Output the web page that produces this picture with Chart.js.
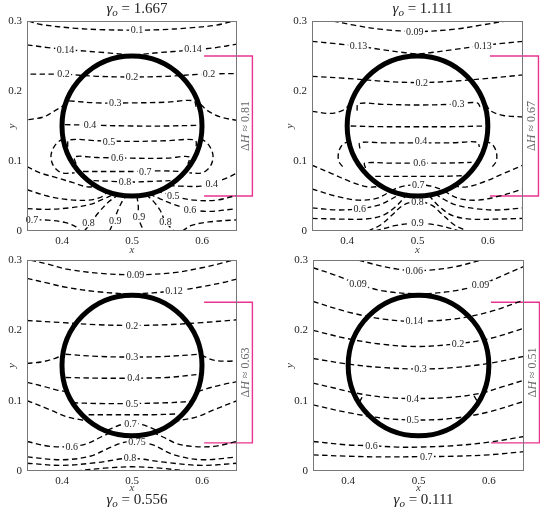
<!DOCTYPE html>
<html><head><meta charset="utf-8">
<script src="https://cdn.jsdelivr.net/npm/chart.js@4.4.0/dist/chart.umd.min.js"></script>
<style>
html,body{margin:0;padding:0;background:#fff;width:540px;height:509px;overflow:hidden;position:relative;}
canvas{position:absolute;}
</style></head><body>
<canvas id="c1" width="270" height="258" style="left:0;top:0"></canvas>
<canvas id="c2" width="265" height="258" style="left:275px;top:0"></canvas>
<canvas id="c3" width="270" height="273" style="left:0;top:236px"></canvas>
<canvas id="c4" width="265" height="273" style="left:275px;top:236px"></canvas>
<script>
// ---------- shared data ----------
const xTicks = [0.4, 0.5, 0.6];
const xTickLabels = ['0.4', '0.5', '0.6'];
const yTicks = [0, 0.1, 0.2, 0.3];
const yTickLabels = ['0', '0.1', '0.2', '0.3'];
const gammaValues = ['1.667', '1.111', '0.556', '0.111'];
const deltaH = ['0.81', '0.67', '0.63', '0.51'];
const bracketTop = [0.25, 0.25, 0.24, 0.24];
const bracketBottom = [0.05, 0.05, 0.04, 0.04];
const bracketX = [0.603, 0.672];
const circleCenter = [0.5, 0.15];
const circleRadius = 0.1;

// ---------- panel 1 (gamma = 1.667) ----------
const p1_a010 = [[0.352,0.3],[0.37,0.295],[0.42,0.2895],[0.46,0.2875],[0.5,0.287],[0.54,0.2875],[0.58,0.29],[0.62,0.294],[0.645,0.3]];
const p1_a014 = [[0.35,0.266],[0.38,0.262],[0.42,0.258],[0.46,0.255],[0.49,0.252],[0.5,0.2505],[0.51,0.252],[0.54,0.255],[0.58,0.258],[0.62,0.262],[0.65,0.267]];
const p1_a020 = [[0.355,0.224],[0.40,0.224],[0.45,0.221],[0.5,0.22],[0.55,0.221],[0.6,0.224],[0.65,0.225]];
const p1_o030L = [[0.352,0.159],[0.374,0.163],[0.39,0.172],[0.402,0.179]];
const p1_o030R = [[0.598,0.181],[0.608,0.172],[0.626,0.163],[0.65,0.158]];
const p1_i030 = [[0.41,0.186],[0.45,0.183],[0.5,0.183],[0.55,0.184],[0.588,0.186],[0.592,0.176]];
const p1_i040 = [[0.404,0.152],[0.45,0.151],[0.5,0.15],[0.55,0.15],[0.594,0.151]];
const p1_i050 = [[0.408,0.12],[0.41,0.13],[0.45,0.129],[0.5,0.128],[0.55,0.129],[0.59,0.13],[0.592,0.12]];
const p1_i060 = [[0.42,0.096],[0.418,0.106],[0.45,0.105],[0.5,0.104],[0.55,0.104],[0.582,0.106],[0.58,0.096]];
const p1_i070 = [[0.43,0.085],[0.47,0.085],[0.5,0.085],[0.54,0.086],[0.57,0.085]];
const p1_i080 = [[0.445,0.072],[0.47,0.071],[0.5,0.07],[0.53,0.071],[0.555,0.072]];
const p1_wL = [[0.402,0.132],[0.392,0.125],[0.385,0.112],[0.385,0.1],[0.39,0.09],[0.4,0.083],[0.418,0.083]];
const p1_wR = [[0.598,0.132],[0.608,0.125],[0.615,0.112],[0.615,0.1],[0.61,0.09],[0.6,0.083],[0.582,0.083]];
const p1_o040L = [[0.35,0.092],[0.369,0.083],[0.393,0.076],[0.416,0.069],[0.436,0.063],[0.448,0.064]];
const p1_o040R = [[0.553,0.065],[0.57,0.064],[0.598,0.064],[0.614,0.068],[0.636,0.076],[0.65,0.083]];
const p1_o050L = [[0.35,0.059],[0.379,0.05],[0.407,0.045],[0.436,0.044],[0.455,0.048],[0.465,0.056]];
const p1_o050R = [[0.535,0.057],[0.55,0.053],[0.566,0.048],[0.59,0.044],[0.62,0.044],[0.65,0.051]];
const p1_o060L = [[0.35,0.032],[0.38,0.031],[0.41,0.033],[0.44,0.038],[0.46,0.046],[0.475,0.053]];
const p1_o060R = [[0.525,0.053],[0.54,0.046],[0.56,0.038],[0.583,0.031],[0.61,0.028],[0.65,0.032]];
const p1_o070L = [[0.35,0.016],[0.38,0.0155],[0.405,0.012],[0.42,0.006],[0.425,0]];
const p1_o070R = [[0.572,0],[0.585,0.008],[0.61,0.013],[0.65,0.016]];
const p1_o080L = [[0.432,0],[0.44,0.01],[0.452,0.026],[0.466,0.041],[0.481,0.052]];
const p1_o080R = [[0.52,0.052],[0.53,0.043],[0.54,0.03],[0.548,0.013],[0.56,0]];
const p1_o090L = [[0.468,0],[0.474,0.014],[0.48,0.03],[0.487,0.044],[0.492,0.0503]];
const p1_o090R = [[0.507,0.0502],[0.509,0.035],[0.509,0.02],[0.514,0.006],[0.518,0]];
const p1LabelText = ['0.1','0.14','0.14','0.2','0.2','0.2','0.3','0.4','0.5','0.6','0.7','0.8','0.4','0.5','0.6','0.7','0.8','0.9','0.9','0.8'];
const p1LabelX = [0.507,0.405,0.587,0.402,0.5,0.61,0.476,0.44,0.467,0.479,0.519,0.49,0.614,0.559,0.583,0.357,0.438,0.476,0.51,0.548];
const p1LabelY = [0.287,0.259,0.26,0.224,0.22,0.225,0.183,0.151,0.128,0.104,0.085,0.07,0.068,0.05,0.03,0.016,0.011,0.014,0.02,0.013];

// ---------- panel 2 (gamma = 1.111) ----------
const p2_a009 = [[0.38,0.3],[0.41,0.294],[0.45,0.288],[0.5,0.285],[0.55,0.288],[0.59,0.294],[0.625,0.3]];
const p2_a013 = [[0.35,0.271],[0.38,0.268],[0.416,0.264],[0.45,0.259],[0.48,0.255],[0.5,0.253],[0.52,0.255],[0.55,0.259],[0.593,0.265],[0.62,0.268],[0.65,0.271]];
const p2_a020 = [[0.35,0.221],[0.4,0.218],[0.45,0.214],[0.5,0.212],[0.55,0.214],[0.6,0.218],[0.65,0.223]];
const p2_o030L = [[0.35,0.171],[0.375,0.168],[0.393,0.172],[0.404,0.181]];
const p2_o030R = [[0.597,0.181],[0.605,0.171],[0.622,0.165],[0.65,0.163]];
const p2_i030 = [[0.414,0.172],[0.416,0.182],[0.45,0.181],[0.5,0.18],[0.55,0.181],[0.585,0.183],[0.59,0.174]];
const p2_i035 = [[0.405,0.15],[0.45,0.149],[0.5,0.149],[0.55,0.149],[0.595,0.15]];
const p2_i040 = [[0.418,0.118],[0.418,0.126],[0.45,0.126],[0.5,0.126],[0.55,0.126],[0.585,0.127],[0.588,0.12]];
const p2_i060 = [[0.426,0.09],[0.425,0.097],[0.46,0.097],[0.5,0.097],[0.54,0.097],[0.577,0.098]];
const p2_i065 = [[0.44,0.078],[0.47,0.078],[0.5,0.078],[0.53,0.078],[0.565,0.079]];
const p2_i070 = [[0.462,0.058],[0.48,0.064],[0.5,0.066],[0.52,0.064],[0.538,0.058]];
const p2_wL = [[0.404,0.128],[0.394,0.124],[0.388,0.113],[0.388,0.1],[0.395,0.09]];
const p2_wR = [[0.596,0.128],[0.606,0.124],[0.612,0.113],[0.612,0.1],[0.605,0.09]];
const p2_o1L = [[0.35,0.094],[0.378,0.082],[0.406,0.07],[0.43,0.063],[0.449,0.064]];
const p2_o1R = [[0.551,0.064],[0.57,0.063],[0.594,0.07],[0.622,0.082],[0.65,0.094]];
const p2_o2L = [[0.35,0.06],[0.387,0.049],[0.416,0.044],[0.443,0.047],[0.462,0.057]];
const p2_o2R = [[0.538,0.057],[0.557,0.047],[0.584,0.044],[0.613,0.049],[0.65,0.06]];
const p2_o3L = [[0.35,0.033],[0.387,0.03],[0.418,0.032],[0.445,0.037],[0.462,0.045],[0.475,0.053]];
const p2_o3R = [[0.525,0.053],[0.538,0.045],[0.555,0.037],[0.582,0.032],[0.613,0.03],[0.65,0.033]];
const p2_o4L = [[0.35,0.018],[0.39,0.017],[0.425,0.017],[0.45,0.022],[0.468,0.034],[0.484,0.051]];
const p2_o4R = [[0.516,0.051],[0.532,0.034],[0.55,0.022],[0.575,0.017],[0.61,0.017],[0.65,0.018]];
const p2_o080 = [[0.43,0],[0.448,0.009],[0.465,0.024],[0.48,0.037],[0.5,0.042],[0.52,0.037],[0.535,0.024],[0.552,0.009],[0.57,0]];
const p2_o090 = [[0.44,0],[0.47,0.008],[0.5,0.011],[0.53,0.008],[0.56,0]];
const p2LabelText = ['0.09','0.13','0.13','0.2','0.3','0.4','0.6','0.7','0.8','0.6','0.9'];
const p2LabelX = [0.496,0.416,0.593,0.506,0.558,0.505,0.503,0.501,0.5,0.418,0.5];
const p2LabelY = [0.285,0.264,0.265,0.212,0.181,0.129,0.097,0.066,0.041,0.032,0.011];

// ---------- panel 3 (gamma = 0.556) ----------
const p3_a009 = [[0.355,0.3],[0.38,0.294],[0.407,0.287],[0.455,0.281],[0.505,0.279],[0.56,0.282],[0.6,0.289],[0.63,0.296],[0.645,0.3]];
const p3_a012 = [[0.35,0.274],[0.38,0.267],[0.407,0.261],[0.45,0.255],[0.5,0.252],[0.56,0.256],[0.6,0.262],[0.63,0.268],[0.65,0.273]];
const p3_a020 = [[0.35,0.214],[0.4,0.211],[0.45,0.208],[0.5,0.207],[0.55,0.208],[0.6,0.211],[0.65,0.215]];
const p3_o030L = [[0.35,0.153],[0.37,0.155],[0.39,0.16],[0.401,0.165]];
const p3_o030R = [[0.599,0.165],[0.615,0.158],[0.635,0.156],[0.65,0.157]];
const p3_i030 = [[0.405,0.166],[0.45,0.163],[0.5,0.162],[0.55,0.163],[0.596,0.166]];
const p3_i040 = [[0.405,0.133],[0.45,0.132],[0.5,0.132],[0.55,0.133],[0.592,0.137]];
const p3_o040L = [[0.35,0.126],[0.375,0.12],[0.393,0.115],[0.406,0.113]];
const p3_o040R = [[0.594,0.113],[0.61,0.118],[0.63,0.123],[0.65,0.127]];
const p3_i050 = [[0.415,0.097],[0.45,0.096],[0.5,0.096],[0.55,0.097],[0.585,0.099]];
const p3_i060 = [[0.438,0.08],[0.47,0.08],[0.5,0.08],[0.53,0.08],[0.562,0.081]];
const p3_i070 = [[0.465,0.058],[0.485,0.066],[0.5,0.068],[0.515,0.066],[0.535,0.058]];
const p3_o050L = [[0.35,0.1],[0.383,0.087],[0.407,0.077],[0.426,0.073],[0.44,0.07]];
const p3_o050R = [[0.56,0.07],[0.574,0.073],[0.593,0.077],[0.617,0.087],[0.65,0.1]];
const p3_o060L = [[0.35,0.042],[0.383,0.035],[0.414,0.035],[0.436,0.039],[0.455,0.048],[0.47,0.055]];
const p3_o060R = [[0.53,0.055],[0.545,0.048],[0.564,0.039],[0.586,0.035],[0.617,0.035],[0.65,0.042]];
const p3_o075 = [[0.35,0.02],[0.4,0.016],[0.44,0.021],[0.47,0.034],[0.49,0.041],[0.507,0.042],[0.53,0.037],[0.56,0.023],[0.6,0.016],[0.65,0.02]];
const p3_o080 = [[0.35,0.011],[0.4,0.008],[0.45,0.012],[0.497,0.018],[0.55,0.012],[0.6,0.008],[0.65,0.011]];
const p3_o085 = [[0.42,0],[0.46,0.004],[0.5,0.006],[0.54,0.004],[0.58,0]];
const p3LabelText = ['0.09','0.12','0.2','0.3','0.4','0.5','0.7','0.6','0.75','0.8'];
const p3LabelX = [0.505,0.56,0.5,0.5,0.502,0.5,0.498,0.414,0.507,0.497];
const p3LabelY = [0.279,0.256,0.207,0.162,0.132,0.096,0.067,0.035,0.041,0.018];

// ---------- panel 4 (gamma = 0.111) ----------
const p4_006 = [[0.415,0.3],[0.44,0.293],[0.47,0.287],[0.494,0.285],[0.52,0.286],[0.55,0.29],[0.59,0.3]];
const p4_009 = [[0.35,0.289],[0.38,0.279],[0.414,0.266],[0.45,0.256],[0.5,0.252],[0.55,0.256],[0.588,0.265],[0.62,0.278],[0.65,0.291]];
const p4_014 = [[0.35,0.241],[0.4,0.226],[0.45,0.216],[0.494,0.213],[0.55,0.216],[0.6,0.226],[0.65,0.243]];
const p4_020 = [[0.35,0.2],[0.4,0.188],[0.45,0.18],[0.5,0.177],[0.556,0.181],[0.6,0.188],[0.65,0.203]];
const p4_030 = [[0.35,0.16],[0.4,0.152],[0.45,0.147],[0.503,0.145],[0.55,0.147],[0.6,0.153],[0.65,0.163]];
const p4_040 = [[0.35,0.125],[0.38,0.118],[0.41,0.111],[0.45,0.105],[0.492,0.103],[0.55,0.105],[0.59,0.111],[0.62,0.12],[0.65,0.129]];
const p4_050 = [[0.35,0.094],[0.4,0.083],[0.45,0.075],[0.5,0.0725],[0.55,0.075],[0.6,0.084],[0.65,0.099]];
const p4_060 = [[0.35,0.042],[0.4,0.037],[0.433,0.036],[0.47,0.034],[0.5,0.034],[0.55,0.036],[0.6,0.041],[0.65,0.049]];
const p4_070 = [[0.35,0.023],[0.4,0.021],[0.45,0.02],[0.511,0.0205],[0.55,0.021],[0.6,0.023],[0.65,0.0275]];
const p4_hL = [[0.416,0.098],[0.421,0.107]];
const p4_hR = [[0.579,0.107],[0.584,0.098]];
const p4LabelText = ['0.06','0.09','0.09','0.14','0.2','0.3','0.4','0.5','0.6','0.7'];
const p4LabelX = [0.494,0.414,0.588,0.494,0.556,0.503,0.492,0.492,0.433,0.511];
const p4LabelY = [0.285,0.266,0.265,0.213,0.181,0.145,0.103,0.073,0.036,0.0205];

// ---------- drawing ----------
const SERIF = '"Liberation Serif", "DejaVu Serif", serif';

function richText(ctx, segs, cx, cy, size) {
  const fontOf = s => (s[1] ? 'italic ' : '') + (s[2] ? Math.round(size * 0.7) : size) + 'px ' + SERIF;
  let total = 0; const ws = [];
  segs.forEach(s => { ctx.font = fontOf(s); const w = ctx.measureText(s[0]).width; ws.push(w); total += w; });
  let xx = cx - total / 2;
  ctx.textAlign = 'left'; ctx.textBaseline = 'middle';
  segs.forEach((s, i) => { ctx.font = fontOf(s); ctx.fillText(s[0], xx, cy + (s[2] ? size * 0.3 : 0)); xx += ws[i]; });
}

function makePanel(canvasId, k, lines, labelText, labelX, labelY, lay) {
  const datasets = lines.map(pts => ({
    data: pts.map(p => ({x: p[0], y: p[1]})),
    showLine: true, borderColor: '#000', borderWidth: 1.35, borderDash: [5.5, 3.5],
    pointRadius: 0, tension: 0.35, fill: false
  }));
  datasets.push({
    data: [
      {x: bracketX[0], y: bracketTop[k]}, {x: bracketX[1], y: bracketTop[k]},
      {x: bracketX[1], y: bracketBottom[k]}, {x: bracketX[0], y: bracketBottom[k]}
    ],
    showLine: true, borderColor: '#e8338f', borderWidth: 1.4, pointRadius: 0, tension: 0, clip: false
  });
  const deco = {
    id: 'deco' + k,
    afterDatasetsDraw(chart) {
      const {ctx, chartArea: a, scales: {x, y}} = chart;
      ctx.save();
      ctx.font = '10px ' + SERIF; ctx.textAlign = 'center'; ctx.textBaseline = 'middle';
      labelText.forEach((t, i) => {
        const px = x.getPixelForValue(labelX[i]), py = y.getPixelForValue(labelY[i]);
        const w = ctx.measureText(t).width;
        ctx.fillStyle = '#fff'; ctx.fillRect(px - w / 2 - 1.5, py - 4, w + 3, 8);
        ctx.fillStyle = '#222'; ctx.fillText(t, px, py + 0.5);
      });
      const cx = x.getPixelForValue(circleCenter[0]), cy = y.getPixelForValue(circleCenter[1]);
      const rx = Math.abs(x.getPixelForValue(circleCenter[0] + circleRadius) - cx);
      const ry = Math.abs(y.getPixelForValue(circleCenter[1] + circleRadius) - cy);
      ctx.beginPath(); ctx.ellipse(cx, cy, rx, ry, 0, 0, Math.PI * 2);
      ctx.lineWidth = 5; ctx.strokeStyle = '#000'; ctx.stroke();
      ctx.lineWidth = 1; ctx.strokeStyle = '#777';
      ctx.strokeRect(Math.round(a.left) + 0.5, Math.round(a.top) + 0.5, Math.round(a.right - a.left) - 1, Math.round(a.bottom - a.top) - 1);
      ctx.restore();
    },
    afterDraw(chart) {
      const {ctx, chartArea: a, scales: {x, y}} = chart;
      ctx.save();
      ctx.fillStyle = '#222';
      richText(ctx, [['γ', true], ['o', true, true], [' = ' + gammaValues[k], false]],
        (a.left + a.right) / 2 + lay.titleDx, lay.titleY, 15);
      const bx = x.getPixelForValue(bracketX[1]) - 7;
      const by = (y.getPixelForValue(bracketTop[k]) + y.getPixelForValue(bracketBottom[k])) / 2;
      ctx.translate(bx, by); ctx.rotate(-Math.PI / 2);
      ctx.fillStyle = '#666';
      richText(ctx, [['Δ', false], ['H', true], [' ≈ ' + deltaH[k], false]], 0, 0, 12);
      ctx.restore();
    }
  };
  const tickFont = {family: SERIF, size: 11};
  const titleFont = {family: SERIF, size: 11, style: 'italic'};
  return new Chart(document.getElementById(canvasId), {
    type: 'scatter',
    data: {datasets},
    options: {
      responsive: false, animation: false, events: [],
      layout: {padding: lay.pad},
      plugins: {legend: {display: false}, tooltip: {enabled: false}},
      scales: {
        x: {
          type: 'linear', min: 0.35, max: 0.65,
          afterFit: s => { s.height = lay.xH; },
          afterBuildTicks: s => { s.ticks = xTicks.map(v => ({value: v})); },
          grid: {display: false, drawTicks: false}, border: {display: false},
          ticks: {font: tickFont, color: '#222', padding: 3.5, autoSkip: false, maxRotation: 0,
                  callback: (v, i) => xTickLabels[i]},
          title: {display: true, text: 'x', font: titleFont, color: '#444', padding: {top: 0, bottom: lay.xTitlePad}}
        },
        y: {
          type: 'linear', min: 0, max: 0.3,
          afterFit: s => { s.width = lay.yW; },
          afterBuildTicks: s => { s.ticks = yTicks.map(v => ({value: v})); },
          grid: {display: false, drawTicks: false}, border: {display: false},
          ticks: {font: tickFont, color: '#222', padding: 5, autoSkip: false,
                  callback: (v, i) => yTickLabels[i]},
          title: {display: true, text: 'y', font: titleFont, color: '#444', padding: {top: lay.yTitlePad, bottom: 0}}
        }
      }
    },
    plugins: [deco]
  });
}

makePanel('c1', 0,
  [p1_a010,p1_a014,p1_a020,p1_o030L,p1_o030R,p1_i030,p1_i040,p1_i050,p1_i060,p1_i070,p1_i080,p1_wL,p1_wR,
   p1_o040L,p1_o040R,p1_o050L,p1_o050R,p1_o060L,p1_o060R,p1_o070L,p1_o070R,p1_o080L,p1_o080R,p1_o090L,p1_o090R],
  p1LabelText, p1LabelX, p1LabelY,
  {pad: {left: 0, right: 33, top: 21, bottom: 1}, xH: 26, yW: 27, xTitlePad: 0.4, yTitlePad: 5.5, titleY: 9, titleDx: 5});
makePanel('c2', 1,
  [p2_a009,p2_a013,p2_a020,p2_o030L,p2_o030R,p2_i030,p2_i035,p2_i040,p2_i060,p2_i065,p2_i070,p2_wL,p2_wR,
   p2_o1L,p2_o1R,p2_o2L,p2_o2R,p2_o3L,p2_o3R,p2_o4L,p2_o4R,p2_o080,p2_o090],
  p2LabelText, p2LabelX, p2LabelY,
  {pad: {left: 0, right: 17, top: 21, bottom: 1}, xH: 26, yW: 37, xTitlePad: 0.4, yTitlePad: 8.5, titleY: 9, titleDx: 5});
makePanel('c3', 2,
  [p3_a009,p3_a012,p3_a020,p3_o030L,p3_o030R,p3_i030,p3_i040,p3_o040L,p3_o040R,p3_i050,p3_i060,p3_i070,
   p3_o050L,p3_o050R,p3_o060L,p3_o060R,p3_o075,p3_o080,p3_o085],
  p3LabelText, p3LabelX, p3LabelY,
  {pad: {left: 0, right: 33, top: 24, bottom: 12}, xH: 26, yW: 27, xTitlePad: 2.4, yTitlePad: 5.5, titleY: 264, titleDx: 5});
makePanel('c4', 3,
  [p4_006,p4_009,p4_014,p4_020,p4_030,p4_040,p4_050,p4_060,p4_070,p4_hL,p4_hR],
  p4LabelText, p4LabelX, p4LabelY,
  {pad: {left: 0, right: 16, top: 24, bottom: 12}, xH: 26, yW: 38, xTitlePad: 2.4, yTitlePad: 8.5, titleY: 264, titleDx: 5});
</script>
</body></html>
